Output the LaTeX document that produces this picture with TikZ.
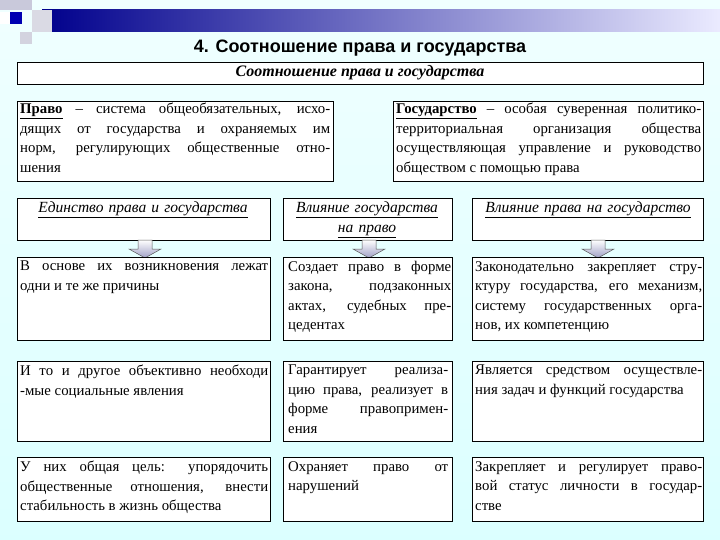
\documentclass[tikz,border=0pt]{standalone}
\usepackage{fontspec}
\setmainfont{Liberation Serif}
\newfontfamily\titlefont{Liberation Sans}
\usetikzlibrary{shadings}
\begin{document}
\begin{tikzpicture}[x=1pt,y=-1pt,
  boxr/.style={draw=black,line width=0.8pt,fill=white},
  txt/.style={anchor=north west,inner sep=0pt,align=justify,font=\fontsize{14.8}{19.5}\selectfont},
  hdr/.style={anchor=north,inner sep=0pt,align=center,font=\fontsize{15.5}{19.5}\selectfont\itshape},
  barrow/.style={draw=gray!70!black,line width=0.5pt,top color=white,bottom color=blue!25!gray!60}]
\shade[top color=cyan!6,bottom color=cyan!14] (0,0) rectangle (720,540);
\useasboundingbox (0,0) rectangle (720,540);
% decoration
\shade[left color=blue!55!black,right color=blue!8!white] (42,10) rectangle (720,32);
\fill[blue!20!gray!35] (0,0) rectangle (32,10);
\fill[blue!15!gray!30] (20,32) rectangle (32,44);
\fill[blue!15!gray!25] (32,10) rectangle (52,32);
\fill[blue!70!black] (10,12) rectangle (22,24);
\fill[white] (0,12) rectangle (10,24);
\node[font=\titlefont\bfseries\fontsize{18}{20}\selectfont] (title) at (360,48) {4. Соотношение права и государства};
% header box
\draw[boxr] (17,62) rectangle (703,84);
\node[font=\fontsize{16}{17}\selectfont\bfseries\itshape] (main) at (360,73) {Соотношение права и государства};
% definitions
\draw[boxr] (17,101) rectangle (333,181);
\node[txt,text width=310pt] (pravo) at (20,103) {\textbf{\underline{Право}} – система общеобязательных, исхо-\linebreak дящих от государства и охраняемых им\linebreak норм, регулирующих общественные отно-\linebreak шения};
\draw[boxr] (393,101) rectangle (703,181);
\node[txt,text width=305pt] (gos) at (396,103) {\textbf{\underline{Государство}} – особая суверенная политико-\linebreak территориальная организация общества\linebreak осуществляющая управление и руководство\linebreak обществом с помощью права};
% column headers
\draw[boxr] (17,198) rectangle (270,240);
\node[hdr,text width=245pt] (h1) at (143,202) {\underline{Единство права и государства}};
\draw[boxr] (283,198) rectangle (452,240);
\node[hdr,text width=165pt] (h2) at (367,202) {\underline{Влияние государства}\\ \underline{на право}};
\draw[boxr] (472,198) rectangle (703,240);
\node[hdr,text width=228pt] (h3) at (588,202) {\underline{Влияние права на государство}};
% arrows
\foreach \c/\n in {145/a1,369/a2,598/a3}{
  \draw[barrow] (\c-7,240) -- (\c+7,240) -- (\c+7,249) -- (\c+16,249) -- (\c,258) -- (\c-16,249) -- (\c-7,249) -- cycle;
}
% rows
\foreach \y/\yy in {257/340,361/441,457/521}{
  \draw[boxr] (17,\y) rectangle (270,\yy);
  \draw[boxr] (283,\y) rectangle (452,\yy);
  \draw[boxr] (472,\y) rectangle (703,\yy);
}
\node[txt,text width=248pt] (r11) at (20,261) {В основе их возникновения лежат\linebreak одни и те же причины};
\node[txt,text width=163pt] (r12) at (288,261) {Создает право в форме\linebreak закона, подзаконных\linebreak актах, судебных пре-\linebreak цедентах};
\node[txt,text width=227pt] (r13) at (475,261) {Законодательно закрепляет стру-\linebreak ктуру государства, его механизм,\linebreak систему государственных орга-\linebreak нов, их компетенцию};
\node[txt,text width=248pt] (r21) at (20,365) {И то и другое объективно необходи\linebreak -мые социальные явления};
\node[txt,text width=160pt] (r22) at (288,365) {Гарантирует реализа-\linebreak цию права, реализует в\linebreak форме правопримен-\linebreak ения};
\node[txt,text width=227pt] (r23) at (475,365) {Является средством осуществле-\linebreak ния задач и функций государства};
\node[txt,text width=248pt] (r31) at (20,461) {У них общая цель: упорядочить\linebreak общественные отношения, внести\linebreak стабильность в жизнь общества};
\node[txt,text width=160pt] (r32) at (288,461) {Охраняет право от\linebreak нарушений};
\node[txt,text width=227pt] (r33) at (475,461) {Закрепляет и регулирует право-\linebreak вой статус личности в государ-\linebreak стве};
\end{tikzpicture}
\end{document}
